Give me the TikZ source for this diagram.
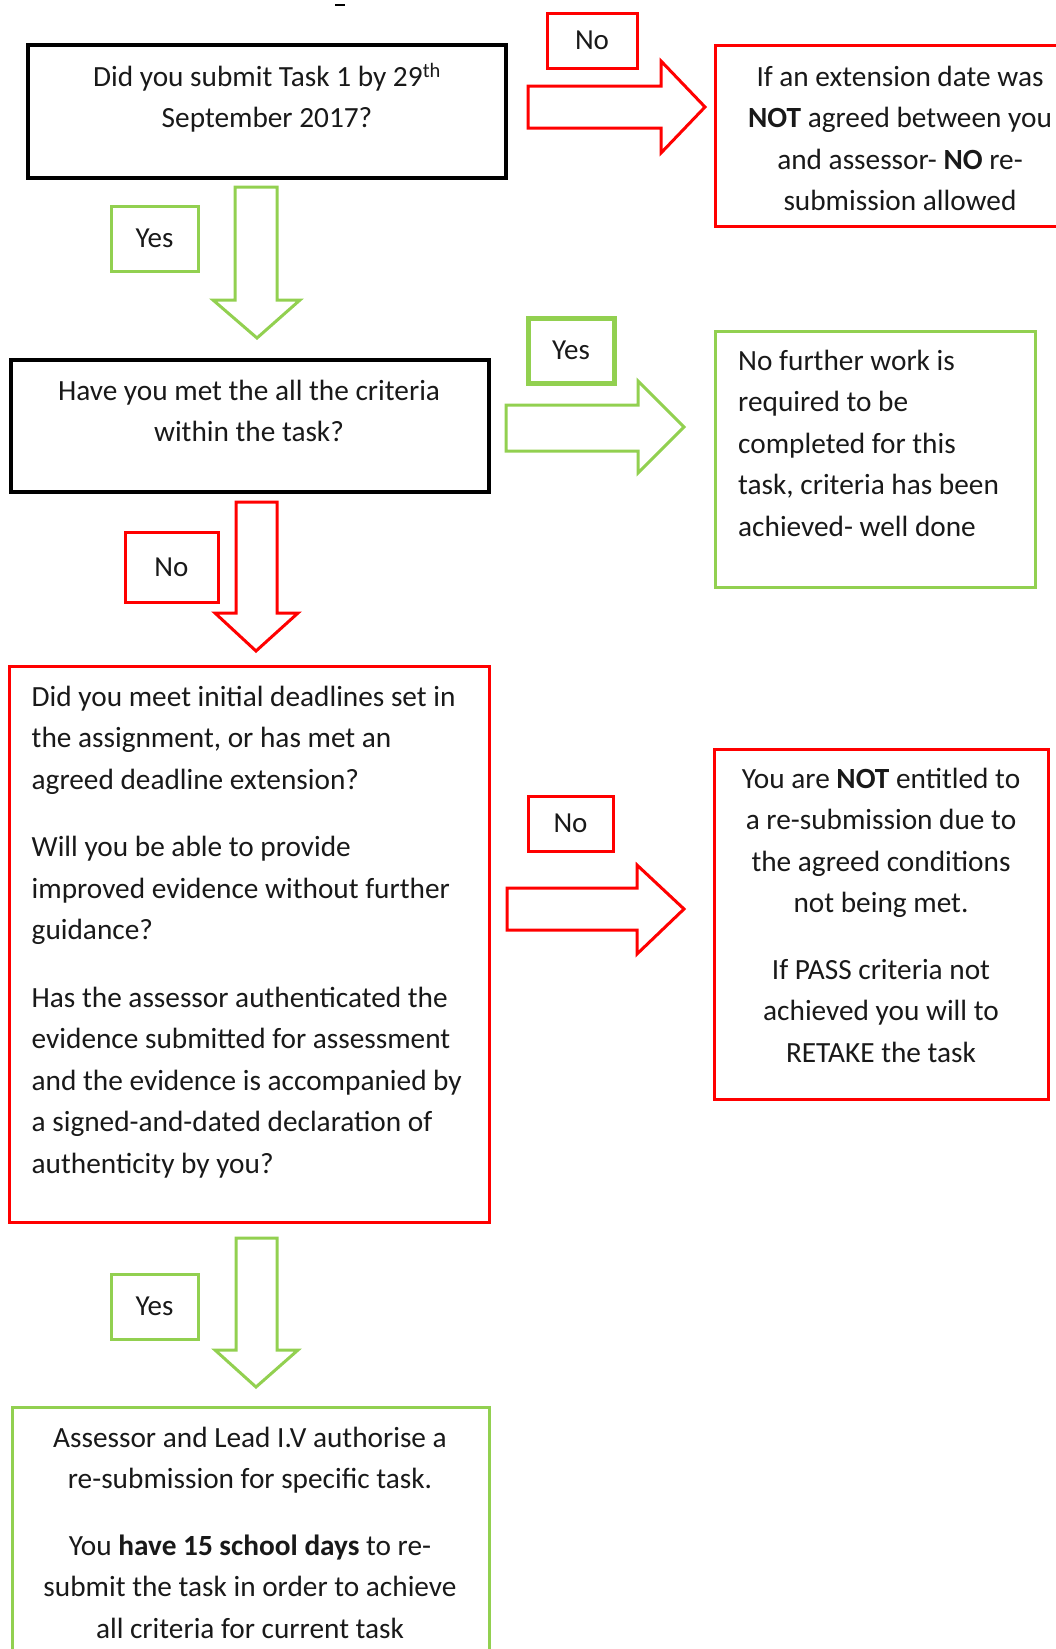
\documentclass[tikz,border=0pt]{standalone}
\usepackage{fontspec}
\setmainfont{Carlito}
\usetikzlibrary{calc}
\definecolor{gr}{HTML}{92D050}
\definecolor{rd}{HTML}{FF0000}
\begin{document}
\begin{tikzpicture}[x=1pt,y=-1pt,
  box/.style={draw, rectangle, inner sep=0pt},
  blackbox/.style={box, draw=black, line width=4pt},
  redbox/.style={box, draw=rd, line width=3pt},
  greenbox/.style={box, draw=gr, line width=3pt},
  txt/.style={inner sep=0pt, anchor=north, text=black!90, font=\fontsize{29.3}{41.5}\selectfont},
  lbl/.style={draw, rectangle, inner sep=0pt, line width=3pt, text=black!90, font=\fontsize{29}{34}\selectfont},
  rarrow/.style={draw=rd, line width=3pt, line join=miter},
  garrow/.style={draw=gr, line width=3pt, line join=miter}
]
\useasboundingbox (0,0) rectangle (1056,1649);
\clip (0,0) rectangle (1056,1649);

% stray mark at top
\draw[line width=2.5pt] (335,5) -- (345,5);

% Box 1
\node[blackbox, minimum width=478pt, minimum height=133pt] (q1) at (267,111.5) {};
\node[txt, align=center] (q1t) at (267,57) {\strut Did you submit Task 1 by 29\textsuperscript{th}\\September 2017?};

% No label 1 + red right arrow
\node[lbl, draw=rd, minimum width=90pt, minimum height=55pt] (no1) at (592,40.5) {No};
\draw[rarrow] (528,86) -- (661,86) -- (661,61) -- (705,107) -- (661,153) -- (661,128) -- (528,128) -- cycle;

% Box 2 (top right, red)
\node[redbox, minimum width=350pt, minimum height=181pt] (r1) at (890,135.5) {};
\node[txt, align=center] (r1t) at (900,57) {\strut If an extension date was\\\textbf{NOT} agreed between you\\and assessor- \textbf{NO} re-\\submission allowed};

% Yes label 1 + green down arrow
\node[lbl, draw=gr, minimum width=87pt, minimum height=65pt] (yes1) at (154.5,238.5) {Yes};
\draw[garrow] (235,187) -- (277,187) -- (277,300) -- (300,300) -- (257,338) -- (213,300) -- (235,300) -- cycle;

% Box 3
\node[blackbox, minimum width=478pt, minimum height=132pt] (q2) at (250,426) {};
\node[txt, align=center] (q2t) at (249,371) {\strut Have you met the all the criteria\\within the task?};

% Yes label 2 + green right arrow
\node[lbl, draw=gr, line width=5pt, minimum width=86pt, minimum height=65pt] (yes2) at (571,350.5) {Yes};
\draw[garrow] (506,405) -- (638,405) -- (638,381) -- (684,427) -- (638,473) -- (638,451) -- (506,451) -- cycle;

% Box 4 (green)
\node[greenbox, minimum width=320pt, minimum height=256pt] (g1) at (875,459) {};
\node[txt, align=left, anchor=north west] (g1t) at (738,341) {\strut No further work is\\required to be\\completed for this\\task, criteria has been\\achieved- well done};

% No label 2 + red down arrow
\node[lbl, draw=rd, minimum width=93pt, minimum height=70pt] (no2) at (171.5,567) {No};
\draw[rarrow] (236,502) -- (277,502) -- (277,613) -- (298,613) -- (256,651) -- (215,613) -- (236,613) -- cycle;

% Box 5 (red)
\node[redbox, minimum width=480pt, minimum height=556pt] (q3) at (249,944) {};
\node[txt, align=left, anchor=north west] (q3t) at (31.5,677) {\strut Did you meet initial deadlines set in\\the assignment, or has met an\\agreed deadline extension?\\[26pt]Will you be able to provide\\improved evidence without further\\guidance?\\[26pt]Has the assessor authenticated the\\evidence submitted for assessment\\and the evidence is accompanied by\\a signed-and-dated declaration of\\authenticity by you?};

% No label 3 + red right arrow
\node[lbl, draw=rd, minimum width=85pt, minimum height=55pt] (no3) at (570.5,823.5) {No};
\draw[rarrow] (507,888) -- (637,888) -- (637,865) -- (684,909) -- (637,954) -- (637,930) -- (507,930) -- cycle;

% Box 6 (red)
\node[redbox, minimum width=334pt, minimum height=350pt] (r2) at (881,924) {};
\node[txt, align=center] (r2t) at (881,759) {\strut You are \textbf{NOT} entitled to\\a re-submission due to\\the agreed conditions\\not being met.\\[25pt]If PASS criteria not\\achieved you will to\\RETAKE the task};

% Yes label 3 + green down arrow
\node[lbl, draw=gr, minimum width=87pt, minimum height=65pt] (yes3) at (154.5,1306.5) {Yes};
\draw[garrow] (236,1238) -- (277,1238) -- (277,1350) -- (298,1350) -- (256,1387) -- (215,1350) -- (236,1350) -- cycle;

% Box 7 (green)
\node[greenbox, minimum width=477pt, minimum height=276pt] (g2) at (250.5,1545) {};
\node[txt, align=center] (g2t) at (250,1418) {\strut Assessor and Lead I.V authorise a\\re-submission for specific task.\\[25pt]You \textbf{have 15 school days} to re-\\submit the task in order to achieve\\all criteria for current task};
\end{tikzpicture}
\end{document}
